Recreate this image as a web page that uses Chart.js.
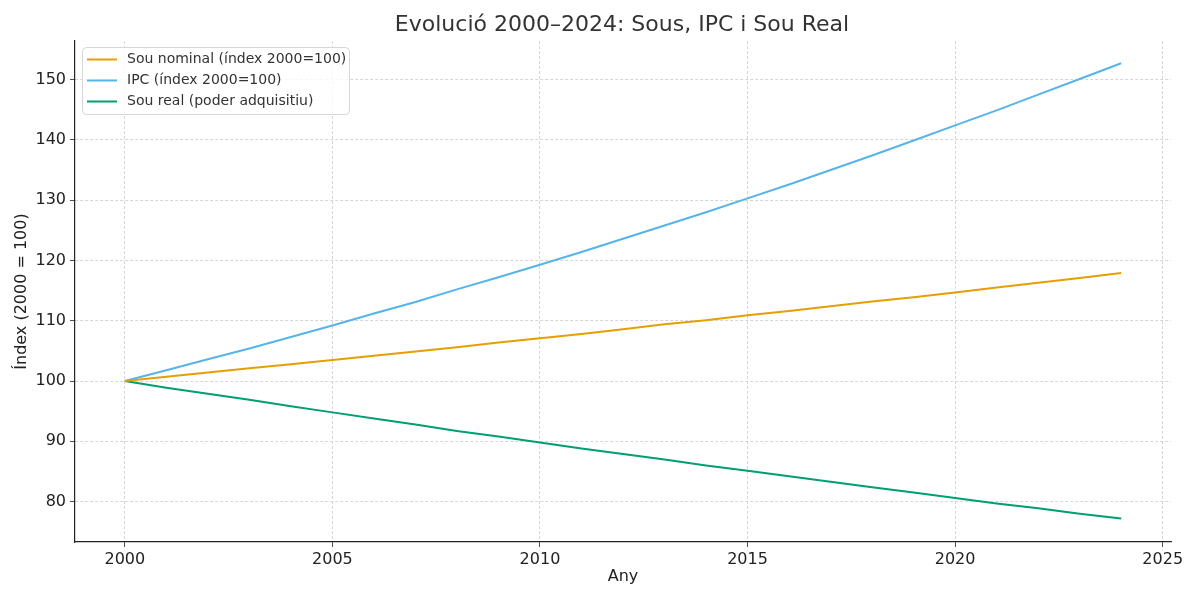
<!DOCTYPE html>
<html>
<head>
<meta charset="utf-8">
<script src="https://cdn.jsdelivr.net/npm/chart.js@4/dist/chart.umd.min.js"></script>
<style>
  body { margin: 0; background: #fff; }
</style>
</head>
<body>
<canvas id="chart" width="1200" height="600"></canvas>
<script>
// anys i valors llegits del gràfic
var years = [2000, 2001, 2002, 2003, 2004, 2005, 2006, 2007, 2008, 2009, 2010, 2011, 2012,
  2013, 2014, 2015, 2016, 2017, 2018, 2019, 2020, 2021, 2022, 2023, 2024];
var nominal = [100, 100.7, 101.4, 102.1, 102.8, 103.5, 104.2, 104.9, 105.6, 106.4, 107.1, 107.8, 108.6,
  109.4, 110.1, 110.9, 111.6, 112.4, 113.2, 113.9, 114.7, 115.5, 116.3, 117.1, 117.9];
var ipc = [100, 101.8, 103.6, 105.4, 107.3, 109.2, 111.2, 113.1, 115.2, 117.2, 119.3, 121.4, 123.6,
  125.8, 128.0, 130.3, 132.6, 135.0, 137.4, 139.9, 142.4, 144.9, 147.5, 150.1, 152.7];
var real = [100, 98.9, 97.9, 96.9, 95.8, 94.8, 93.8, 92.8, 91.7, 90.8, 89.8, 88.8, 87.9,
  87.0, 86.0, 85.1, 84.2, 83.3, 82.4, 81.5, 80.6, 79.7, 78.9, 78.0, 77.2];
var xTicks = [2000, 2005, 2010, 2015, 2020, 2025];
var yTicks = [80, 90, 100, 110, 120, 130, 140, 150];
var labels = ["Sou nominal (índex 2000=100)", "IPC (índex 2000=100)", "Sou real (poder adquisitiu)"];

function pts(vals) {
  return vals.map(function (v, i) { return { x: years[i], y: v }; });
}

var font = "DejaVu Sans";
Chart.defaults.font.family = font;
Chart.defaults.color = "#222";

var titleAndLegend = {
  id: "titleAndLegend",
  afterDraw: function (chart) {
    var c = chart.ctx;
    c.save();
    c.fillStyle = "#333";
    c.font = "22px " + font;
    c.textAlign = "center";
    c.textBaseline = "middle";
    c.fillText("Evolució 2000–2024: Sous, IPC i Sou Real", 622, 25);

    // llegenda dins del gràfic
    var x = 82.5, y = 47.5, w = 267, h = 67, r = 4;
    c.beginPath();
    c.moveTo(x + r, y);
    c.arcTo(x + w, y, x + w, y + h, r);
    c.arcTo(x + w, y + h, x, y + h, r);
    c.arcTo(x, y + h, x, y, r);
    c.arcTo(x, y, x + w, y, r);
    c.closePath();
    c.fillStyle = "rgba(255,255,255,0.8)";
    c.fill();
    c.strokeStyle = "#d6d6d6";
    c.lineWidth = 1;
    c.stroke();
    c.font = "14px " + font;
    c.textAlign = "left";
    chart.data.datasets.forEach(function (ds, i) {
      var ly = 59.5 + i * 21;
      c.strokeStyle = ds.borderColor;
      c.lineWidth = 2;
      c.beginPath();
      c.moveTo(87, ly);
      c.lineTo(117, ly);
      c.stroke();
      c.fillStyle = "#333";
      c.fillText(ds.label, 127, ly);
    });
    c.restore();
  }
};

var ctx = document.getElementById("chart").getContext("2d");
var myChart = new Chart(ctx, {
  type: "line",
  data: {
    datasets: [
      { label: labels[0], data: pts(nominal), borderColor: "#E69F00" },
      { label: labels[1], data: pts(ipc), borderColor: "#56B4E9" },
      { label: labels[2], data: pts(real), borderColor: "#009E73" },
    ],
  },
  options: {
    responsive: false,
    animation: false,
    layout: { padding: { top: 41, right: 29, left: 0, bottom: 0 } },
    elements: {
      line: { borderWidth: 2, tension: 0, fill: false },
      point: { radius: 0 },
    },
    plugins: {
      legend: { display: false },
      title: { display: false },
      tooltip: { enabled: false },
    },
    scales: {
      x: {
        type: "linear",
        min: 1998.8,
        max: 2025.2,
        afterBuildTicks: function (s) { s.ticks = xTicks.map(function (v) { return { value: v }; }); },
        afterFit: function (s) { s.height = 58; },
        ticks: {
          font: { size: 16 },
          color: "#222",
          padding: 3,
          maxRotation: 0,
          callback: function (v) { return String(v); },
        },
        grid: {
          color: "#cccccc",
          lineWidth: 0.8,
          tickLength: 5,
          tickColor: "#222",
          tickBorderDash: [],
        },
        border: { color: "#222", width: 1.2, dash: [3, 2] },
        title: { display: true, text: "Any", font: { size: 16 }, color: "#222", padding: { top: 0, bottom: 14 } },
      },
      y: {
        type: "linear",
        min: 73.3,
        max: 156.4,
        afterBuildTicks: function (s) { s.ticks = yTicks.map(function (v) { return { value: v }; }); },
        afterFit: function (s) { s.width = 75; },
        ticks: { font: { size: 16 }, color: "#222", padding: 4 },
        grid: {
          color: "#cccccc",
          lineWidth: 0.8,
          tickLength: 5,
          tickColor: "#222",
          tickBorderDash: [],
        },
        border: { color: "#222", width: 1.2, dash: [3, 2] },
        title: { display: true, text: "Índex (2000 = 100)", font: { size: 16 }, color: "#222", padding: { top: 12, bottom: 0 } },
      },
    },
  },
  plugins: [titleAndLegend],
});
</script>
</body>
</html>
